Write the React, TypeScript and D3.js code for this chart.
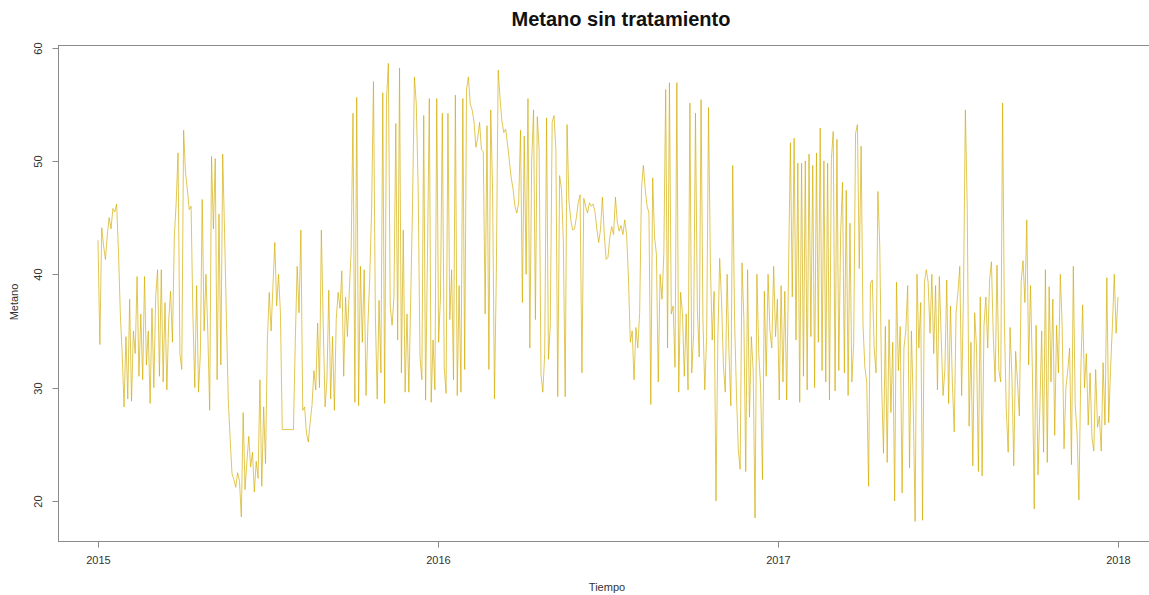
import React from "react";
import * as d3 from "d3";

// Metano, one reading every 2 days starting 2015-01-01
const v2015: number[] = [
  43, 33.8, 44.1, 42.5, 41.3, 43.5, 45, 44, 45.8, 45.5,
  46.2, 42, 36.5, 33, 28.3, 34.5, 29, 37.8, 28.8, 35,
  33, 39.8, 31, 36.5, 30.7, 39.8, 32, 35, 28.6, 37,
  30, 38, 40.4, 31, 40.4, 30.5, 37.5, 29.8, 36, 38.5,
  34, 43.3, 46.3, 50.7, 33, 31.6, 52.7, 49, 47.5, 45.7,
  46, 36.3, 30, 39, 29.6, 33, 46.6, 35, 40, 34.8,
  28, 50.4, 44, 50.2, 30.7, 45.3, 32, 50.6, 43.7, 36,
  28.9, 25.5, 22.4, 21.9, 21.2, 22.5, 21.8, 18.6, 27.8, 21,
  23.5, 25.7, 23, 24.3, 20.8, 23.5, 22, 30.7, 21.3, 28.3,
  23.3, 34.2, 38.4, 35, 39, 42.8, 37.2, 40, 36.6, 26.3,
  26.3, 26.3, 26.3, 26.3, 26.3, 26.3, 34.2, 40.7, 36.6, 43.9,
  28, 28.3, 26, 25.2, 27, 28.5, 31.5, 29.8, 35.7, 30,
  43.9, 35.5, 28.3, 30.7, 38.6, 29, 34.5, 28, 36, 38.4,
  37, 40.3, 31, 38, 34.5, 38.5, 42, 54.2, 28.7, 55.6,
  28.4, 40.7, 34, 40.4, 29.3, 35.5, 39.8, 45.7, 57, 36.5,
  29, 37.7, 31.3, 56, 28.6, 55.4, 58.6, 37.2, 35.5, 38,
  53.3, 34.2, 58.2, 31.3, 43.9, 29.6, 36.5, 29.6, 37.7, 46.3,
  57.4, 55, 47.7, 32.7, 30.7, 54, 28.9, 41.5, 55.5, 28.7,
  34.2, 29.8, 55.5,
];

const v2016: number[] = [
  34, 38, 54.2, 31.8, 29.5, 54.2, 36, 40.4, 30.7, 55.8,
  29.3, 39, 29.6, 55.5, 31.6, 56.3, 57.4, 55, 54.5, 53.5,
  51.2, 52, 53.4, 51, 50.8, 36.5, 53.1, 31.6, 54.5, 47.5,
  29, 40, 58, 55.5, 53.5, 52.5, 52.8, 51.5, 50, 48.5,
  47.5, 46, 45.4, 46.3, 52.7, 37.5, 52.2, 40, 55.5, 33.5,
  50, 54.5, 36, 53.9, 51, 31.2, 29.6, 33, 53.8, 32.5,
  35.5, 53.4, 54, 51, 29.2, 48.7, 47.5, 43, 29.2, 53.2,
  46.5, 44.8, 43.9, 44, 45, 46.3, 47, 31.3, 46.7, 46,
  45.4, 46.3, 46, 46.2, 45.5, 44, 42.8, 44, 46.8, 43.5,
  41.3, 41.5, 43.3, 44.2, 43.5, 46.8, 44.6, 43.8, 44.3, 43.5,
  44.8, 43.5, 39.6, 34, 35, 30.7, 35.3, 33.5, 36.6, 47.6,
  49.6, 47.5, 46, 45.4, 28.5, 48.5, 43.3, 41.8, 30.5, 40,
  37.8, 41.8, 56.3, 33.5, 56.9, 36.5, 37.2, 31.8, 56.9, 29.6,
  38.4, 36.6, 31, 36.5, 29.8, 55.1, 31.3, 34.8, 54.2, 37,
  32.7, 55.4, 36, 29.8, 34.5, 54.7, 41, 34.2, 38.5, 20,
  34.2, 41.4, 37.7, 32, 29.6, 40, 33, 28.4, 49.6, 36,
  29.6, 24.5, 22.8, 41, 36, 22.6, 40.4, 27.4, 34.5, 31.5,
  18.5, 40, 33, 30, 21.9, 38.5, 31, 40, 35, 33.5,
  40.7, 34.5, 37.8,
];

const v2017: number[] = [
  28.9, 39, 30.5, 38.5, 28.9, 40.4, 51.6, 38, 52, 34.2,
  49.8, 28.7, 49.8, 31, 50, 29.8, 50.6, 34.5, 49.6, 30,
  50.7, 34, 52.9, 31.5, 50, 30.5, 49.8, 28.9, 50.1, 52.6,
  29.7, 51.9, 31.5, 43.7, 48.1, 31.3, 47.4, 29.3, 44.5, 30.5,
  34, 52.4, 53.2, 40.5, 51.3, 35.5, 31.8, 30.5, 21.3, 39.2,
  39.5, 33.5, 31.3, 47.3, 42.5, 30.4, 24.2, 35.4, 23.4, 36,
  27.8, 34, 20, 39.3, 31.5, 35.4, 20.7, 33.5, 35, 39,
  22.9, 35, 28.5, 18.2, 40, 33.5, 37.5, 18.3, 39.3, 40.4,
  39.3, 34.8, 40, 33, 39, 29.8, 39.8, 34.5, 29.3, 31.6,
  39.5, 28.6, 37.2, 30.5, 26.1, 36.6, 38.4, 40.7, 29.3, 38.5,
  54.5, 45.9, 26.6, 34, 23.1, 36.6, 33.5, 22.6, 38, 22.2,
  35.5, 38, 33.5, 39.5, 41.1, 34.5, 30.5, 40.8, 31.5, 30.5,
  55.1, 35.3, 28, 24.3, 35.3, 31, 23.1, 33.2, 30.5, 27.5,
  39.4, 41.2, 37.5, 44.8, 32, 39, 31.5, 19.3, 35.5, 22.3,
  28, 35, 24.3, 40.4, 23.4, 38.9, 30.5, 37.8, 25.8, 35.5,
  31.3, 40, 35.5, 24.6, 30, 31.5, 33.5, 23.2, 40.7, 28.5,
  26, 20.1, 31.3, 37.3, 30, 33, 26.7, 31.3, 25.6, 24.4,
  31.6, 26.5, 27.5, 24.4, 32.2, 26.7, 39.7, 26.9, 31.6, 35.5,
  40, 34.8, 38,
];

const xTicks: number[] = [2015, 2016, 2017, 2018];
const yTicks: number[] = [20, 30, 40, 50, 60];

const START = Date.UTC(2015, 0, 1);
const STEP = 2 * 86400000;

const W = 1149;
const H = 595;

export default function App() {
  const values = [...v2015, ...v2016, ...v2017];
  const data = values.map((v, i) => ({ t: new Date(START + i * STEP), v }));

  const x = d3
    .scaleUtc()
    .domain([new Date(Date.UTC(2015, 0, 1)), new Date(Date.UTC(2018, 0, 1))])
    .range([98, 1118]);
  const y = d3.scaleLinear().domain([20, 60]).range([501, 47.5]);

  const line = d3
    .line<{ t: Date; v: number }>()
    .x((d) => x(d.t))
    .y((d) => y(d.v));

  const frameL = 58.5;
  const frameT = 45.5;
  const frameB = 541.5;
  const frameR = 1159.5;
  const font = "'Liberation Sans', Arial, sans-serif";
  const axisCol = "#8a8a8a";
  const textCol = "#333";

  return (
    <svg
      width={W}
      height={H}
      style={{ position: "absolute", left: 0, top: 0, background: "#fff" }}
      fontFamily={font}
    >
      <text x={621} y={26} textAnchor="middle" fontSize={20} fontWeight="bold" fill="#111">
        Metano sin tratamiento
      </text>
      <path d={line(data) || ""} fill="none" stroke="#D2AC00" strokeWidth={0.8} strokeOpacity={0.85} />
      <rect
        x={frameL}
        y={frameT}
        width={frameR - frameL}
        height={frameB - frameT}
        fill="none"
        stroke={axisCol}
        strokeWidth={1}
      />
      {xTicks.map((yr) => {
        const px = Math.round(x(new Date(Date.UTC(yr, 0, 1)))) + 0.5;
        return (
          <g key={yr}>
            <line x1={px} x2={px} y1={frameB} y2={frameB + 6} stroke={axisCol} />
            <text x={px} y={564} textAnchor="middle" fontSize={11} fill={textCol}>
              {yr}
            </text>
          </g>
        );
      })}
      {yTicks.map((t) => {
        const py = Math.round(y(t)) + 0.5;
        return (
          <g key={t}>
            <line x1={frameL - 6} x2={frameL} y1={py} y2={py} stroke={axisCol} />
            <text
              transform={`translate(${42},${py}) rotate(-90)`}
              textAnchor="middle"
              fontSize={11}
              fill={textCol}
            >
              {t}
            </text>
          </g>
        );
      })}
      <text x={607} y={591} textAnchor="middle" fontSize={11} fill={textCol}>
        Tiempo
      </text>
      <text transform={`translate(18,302) rotate(-90)`} textAnchor="middle" fontSize={11} fill={textCol}>
        Metano
      </text>
    </svg>
  );
}
